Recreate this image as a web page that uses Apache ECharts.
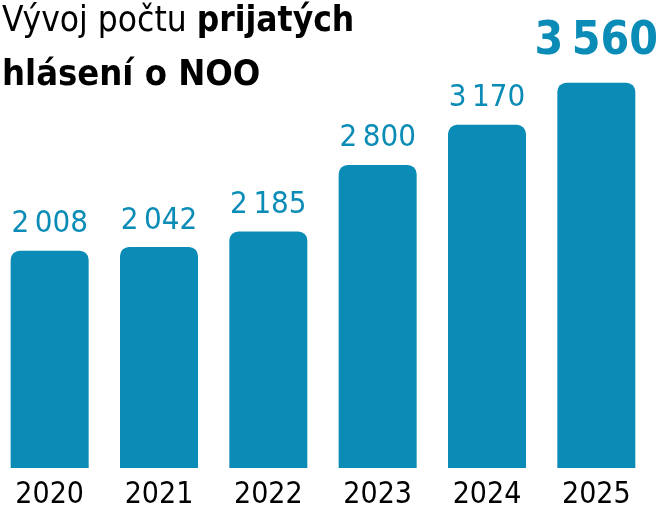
<!DOCTYPE html>
<html><head><meta charset="utf-8">
<script src="https://cdn.jsdelivr.net/npm/echarts@6/dist/echarts.min.js"></script>
<style>html,body{margin:0;padding:0;background:#fff;overflow:hidden}#c{position:absolute;left:-5px;top:0;width:662px;height:508px}</style>
</head><body><div id="c"></div>
<script>
const years = ['2020','2021','2022','2023','2024','2025'];
const counts = [2008, 2042, 2185, 2800, 3170, 3560];
const titleLine1Regular = 'Vývoj počtu ';
const titleLine1Bold = 'prijatých';
const titleLine2 = 'hlásení o NOO';

const FONT = '"DejaVu Sans Condensed", "Roboto Condensed", "Roboto", sans-serif';
const BLUE = '#0b8cb6';
const fmt = v => String(v).replace(/\B(?=(\d{3})+(?!\d))/g, '\u2009');

const chart = echarts.init(document.getElementById('c'));
chart.setOption({
  animation: false,
  title: {
    left: 7, top: 3, padding: 0,
    text: '{r|' + titleLine1Regular + '}{b|' + titleLine1Bold + '}\n{b2|' + titleLine2 + '}',
    textStyle: {
      rich: {
        r: {fontFamily: FONT, fontSize: 35, fontWeight: 'normal', color: '#000', lineHeight: 38},
        b: {fontFamily: FONT, fontSize: 35, fontWeight: 'bold', color: '#000', lineHeight: 38},
        b2: {fontFamily: FONT, fontSize: 36, fontWeight: 'bold', color: '#000', lineHeight: 70}
      }
    }
  },
  grid: {left: 0, width: 656, top: 35, bottom: 40, containLabel: false, outerBoundsMode: 'none'},
  xAxis: {
    type: 'category', data: years,
    axisLine: {show: false}, axisTick: {show: false},
    axisLabel: {fontFamily: FONT, fontSize: 30, color: '#000', margin: 12}
  },
  yAxis: {type: 'value', min: 0, max: 4000, show: false, splitLine: {show: false}},
  series: [{
    type: 'bar', data: counts.map((v, i) => i === counts.length - 1 ? {
      value: v,
      label: {fontSize: 46, fontWeight: 'bold', distance: 18}
    } : v),
    barWidth: 78,
    itemStyle: {color: BLUE, borderRadius: [9, 9, 0, 0]},
    label: {
      show: true, position: 'top', distance: 11,
      fontFamily: FONT, fontSize: 31, color: BLUE,
      formatter: p => fmt(p.value)
    }
  }]
});
</script></body></html>
